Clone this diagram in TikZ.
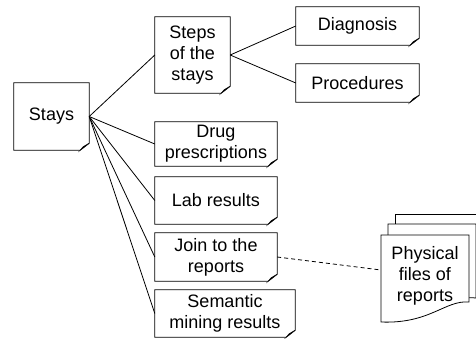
\documentclass[tikz,border=0pt]{standalone}
\usepackage{fontspec}
\setmainfont{Liberation Sans}
\usetikzlibrary{positioning, calc}

\begin{document}
\begin{tikzpicture}[
  x=1pt, y=1pt,
  align=center,
  font=\fontsize{18}{20.7}\selectfont,
  % Estilos de notas
  note/.style={draw=none, minimum width=122pt, minimum height=47pt, inner sep=2pt},
  border/.style={draw, line width=0.8pt},
  fold/.style={draw, line width=0.6pt, fill=gray!30},
  page/.style={draw, line width=0.8pt, fill=white},
  % Estilos de conectores
  link/.style={draw, line width=0.8pt},
  dashlink/.style={draw, line width=0.8pt, dash pattern=on 4pt off 3pt}
]
  \useasboundingbox (0,0) rectangle (476,-338);

  % ==========================================
  % NOTES
  % ==========================================
  \node[note, minimum width=75pt, minimum height=67pt] (stays) at (51.5,-116.5) {Stays};
  \node[note, minimum width=75pt, minimum height=76pt] (steps) at (192.5,-55) {Steps\\of the\\stays};

  \node[note, minimum width=123pt, minimum height=38pt] (diag) at (357.5,-26) {Diagnosis};
  \node[note, minimum width=123pt, minimum height=38pt] (proc) at (357.5,-83) {Procedures};

  \node[note, minimum height=44pt] (drug) at (216,-144) {Drug\\prescriptions};
  \node[note] (lab) at (216,-200.5) {Lab results};
  \node[note, minimum height=48pt] (join) at (216,-257) {Join to the\\reports};
  \node[note, minimum width=140pt] (sem) at (225,-313.5) {Semantic\\mining results};

  % Bordes con esquina doblada
  \foreach \n in {stays, steps, diag, proc, drug, lab, join, sem} {
    \draw[border] (\n.north west) -- (\n.north east) -- ($(\n.south east)+(0,7)$)
      -- ($(\n.south east)+(-9,0)$) -- (\n.south west) -- cycle;
    \filldraw[fold] ($(\n.south east)+(0,7)$) -- ($(\n.south east)+(-6,3.5)$)
      -- ($(\n.south east)+(-9,0)$) -- cycle;
  }

  % ==========================================
  % PHYSICAL FILES
  % ==========================================
  \begin{scope}
    \clip (0,0) rectangle (476,-338);
    \draw[page] (395,-214) -- (483,-214) -- (483,-288) -- (395,-288) -- cycle;
    \draw[page] (388,-224) -- (476,-224) -- (476,-298)
      .. controls (458,-296) and (440,-306) .. (420,-312) -- (388,-312) -- cycle;
    \draw[page] (381,-235) -- (469,-235) -- (469,-302)
      .. controls (445,-300) and (430,-324) .. (381,-322) -- cycle;
  \end{scope}
  \node (files) at (425,-276) {Physical\\files of\\reports};
  \coordinate (files_in) at (381,-270);

  % ==========================================
  % CONNECTORS
  % ==========================================
  \foreach \n in {steps, drug, lab, join, sem}
    \draw[link] (stays.east) -- (\n.west);
  \draw[link] (steps.east) -- (diag.west);
  \draw[link] (steps.east) -- (proc.west);

  \draw[dashlink] (join.east) -- (files_in);

\end{tikzpicture}
\end{document}
